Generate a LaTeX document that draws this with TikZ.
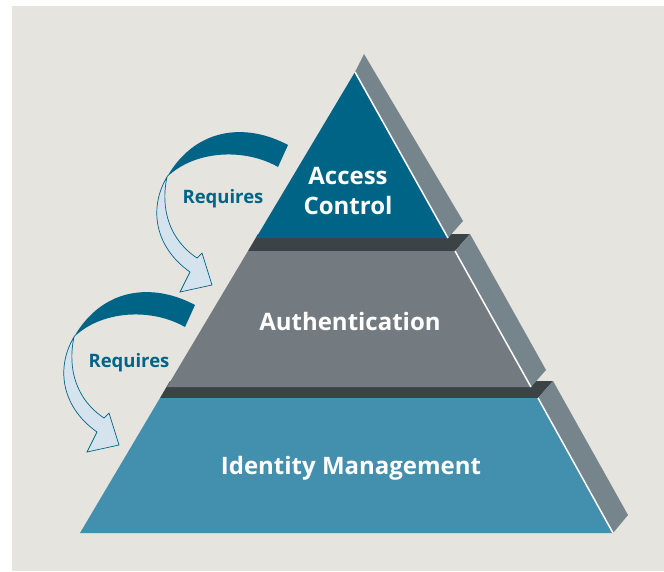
\documentclass[tikz,border=0pt]{standalone}
\usepackage{fontspec}
\setmainfont{Open Sans}
\usepackage{tikz}
\definecolor{bgbeige}{HTML}{E5E4DE}
\definecolor{topblue}{HTML}{006487}
\definecolor{midgrey}{HTML}{737B81}
\definecolor{lowblue}{HTML}{438FAE}
\definecolor{sidegrey}{HTML}{76848C}
\definecolor{bandgrey}{HTML}{3C4346}
\definecolor{arrowpale}{HTML}{D4E3EE}

\begin{document}
\begin{tikzpicture}[x=1pt, y=-1pt,
        layerlabel/.style={text=white, font=\bfseries\fontsize{24}{30}\selectfont, align=center, inner sep=0pt},
        reqlabel/.style={text=topblue, font=\bfseries\fontsize{18.5}{22}\selectfont, inner sep=0pt},
        edgeline/.style={white, line width=1.5pt}]
        \useasboundingbox (0,0) rectangle (664,571);

        % Fond
        \fill[white] (0,0) rectangle (664,571);
        \fill[bgbeige] (12,6) rectangle (664,571);

        % Bandes sombres
        \fill[bandgrey] (248,251) -- (455,251) -- (470,234) -- (258,234) -- cycle;
        \fill[bandgrey] (160,398) -- (538,398) -- (553,381) -- (170,381) -- cycle;

        % Faces de cote
        \fill[sidegrey] (355,72) -- (364,54) -- (463,221) -- (448,238) -- cycle;
        \fill[sidegrey] (455,251) -- (470,234) -- (546,370) -- (531,387) -- cycle;
        \fill[sidegrey] (538,398) -- (553,381) -- (628,515) -- (613,533) -- cycle;

        % Faces avant
        \fill[topblue] (355,72) -- (448,238) -- (256,238) -- cycle;
        \fill[midgrey] (248,251) -- (455,251) -- (531,387) -- (167,387) -- cycle;
        \fill[lowblue] (160,398) -- (538,398) -- (613,533) -- (80,533) -- cycle;

        % Aretes
        \draw[edgeline] (355,72) -- (448,238);
        \draw[edgeline] (455,251) -- (531,387);
        \draw[edgeline] (538,398) -- (613,533);

        % Fleches
        \def\reqarrow{
            \fill[topblue] (288,145) .. controls (245,122) and (195,128) .. (167,177)
                .. controls (195,150) and (245,148) .. (278,167) -- cycle;
            \filldraw[fill=arrowpale, draw=topblue, line width=0.7pt] (167,177)
                .. controls (150,205) and (152,245) .. (190,272) -- (180,292) -- (212,285)
                -- (202,253) -- (197,258) .. controls (170,240) and (160,210) .. (167,177) -- cycle;
        }
        \begin{scope}
            \reqarrow
        \end{scope}
        \begin{scope}[shift={(-93,160)}]
            \reqarrow
        \end{scope}

        % Textes
        \node[layerlabel] (access) at (348,191) {Access\\Control};
        \node[layerlabel, anchor=base] (authent) at (350,330) {Authentication};
        \node[layerlabel, anchor=base] (identity) at (351,474) {Identity Management};
        \node[reqlabel, anchor=base] (requpper) at (223,203) {Requires};
        \node[reqlabel, anchor=base] (reqlower) at (129,367) {Requires};
    \end{tikzpicture}
\end{document}
